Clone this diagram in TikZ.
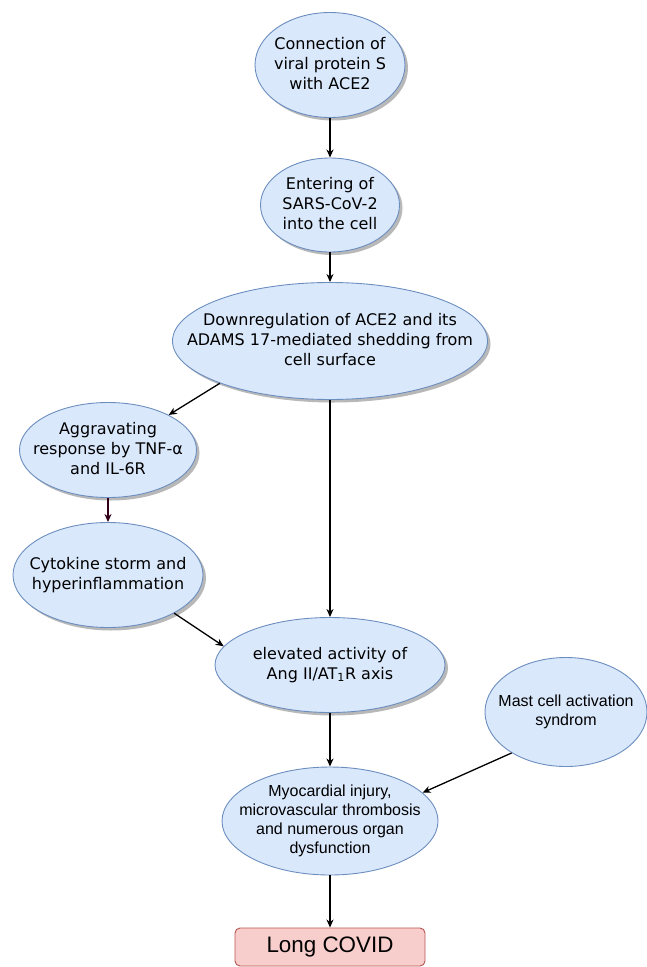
\documentclass[tikz,border=0pt]{standalone}
\usepackage{fontspec}
\setmainfont{DejaVu Sans}
\newfontfamily\arialfont{Liberation Sans}
\usepackage{xcolor}
\usepackage{tikz}
\usetikzlibrary{arrows.meta,shapes.geometric,shadows}

\definecolor{cellfill}{HTML}{DAE8FC}
\definecolor{celldraw}{HTML}{6C8EBF}
\definecolor{covidfill}{HTML}{F8CECC}
\definecolor{coviddraw}{HTML}{B85450}
\definecolor{maroon}{HTML}{33001A}

% text may run past the ellipse, as in the drawing
\newcommand\celltext[1]{\makebox[0pt]{\begin{tabular}{@{}c@{}}#1\end{tabular}}}

\begin{document}
\begin{tikzpicture}[x=1pt,y=-1pt,
  cell/.style={ellipse,draw=celldraw,fill=cellfill,line width=0.9pt,inner sep=0pt,
    font=\fontsize{16}{20}\selectfont},
  shade/.style={drop shadow={shadow xshift=3pt,shadow yshift=-3pt,fill=black!28,opacity=1}},
  arial/.style={font=\arialfont\fontsize{16}{19}\selectfont},
  arr/.style={-{Stealth[length=8pt,width=7pt,inset=2.5pt]},line width=1.3pt},
  bigarr/.style={arr,line width=2pt}]
\useasboundingbox (0,0) rectangle (647,967);

\node[cell,shade,minimum width=150pt,minimum height=105pt] (conn) at (330,65) {\celltext{Connection of\\viral protein S\\with ACE2}};
\node[cell,shade,minimum width=139pt,minimum height=94pt] (enter) at (330,205) {\celltext{Entering of\\SARS-CoV-2\\into the cell}};
\node[cell,shade,minimum width=315pt,minimum height=117pt] (down) at (330,341) {\celltext{Downregulation of ACE2 and its\\ADAMS 17-mediated shedding from\\cell surface}};
\node[cell,shade,minimum width=177pt,minimum height=95pt] (aggr) at (108,450) {\celltext{Aggravating\\response by TNF-α\\and IL-6R}};
\node[cell,shade,minimum width=190pt,minimum height=105pt] (storm) at (108,575) {\celltext{Cytokine storm and\\hyperinflammation}};
\node[cell,shade,minimum width=230pt,minimum height=95pt] (ang) at (330,665) {\celltext{elevated activity of\\Ang II/AT\textsubscript{1}R axis}};
\node[cell,arial,minimum width=162pt,minimum height=109pt] (mast) at (566,712) {\celltext{Mast cell activation\\syndrom}};
\node[cell,arial,minimum width=216pt,minimum height=108pt] (myo) at (330,821) {\celltext{Myocardial injury,\\microvascular thrombosis\\and numerous organ\\dysfunction}};
\node[draw=coviddraw,fill=covidfill,line width=0.9pt,rounded corners=5pt,minimum width=190pt,minimum height=38pt,
  font=\arialfont\fontsize{22.4}{26}\selectfont] (covid) at (330,947) {Long COVID};

\draw[bigarr] (conn.south) -- (enter.north);
\draw[bigarr] (enter.south) -- (down.north);
\draw[arr] (down.201) -- (aggr.30);
\draw[arr,maroon] (aggr.south) -- (storm.north);
\draw[arr] (down.south) -- (ang.north);
\draw[arr] (storm.330) -- (ang.170);
\draw[bigarr] (ang.south) -- (myo.north);
\draw[arr] (mast.217) -- (myo.17);
\draw[bigarr] (myo.south) -- (covid.north);
\end{tikzpicture}
\end{document}
